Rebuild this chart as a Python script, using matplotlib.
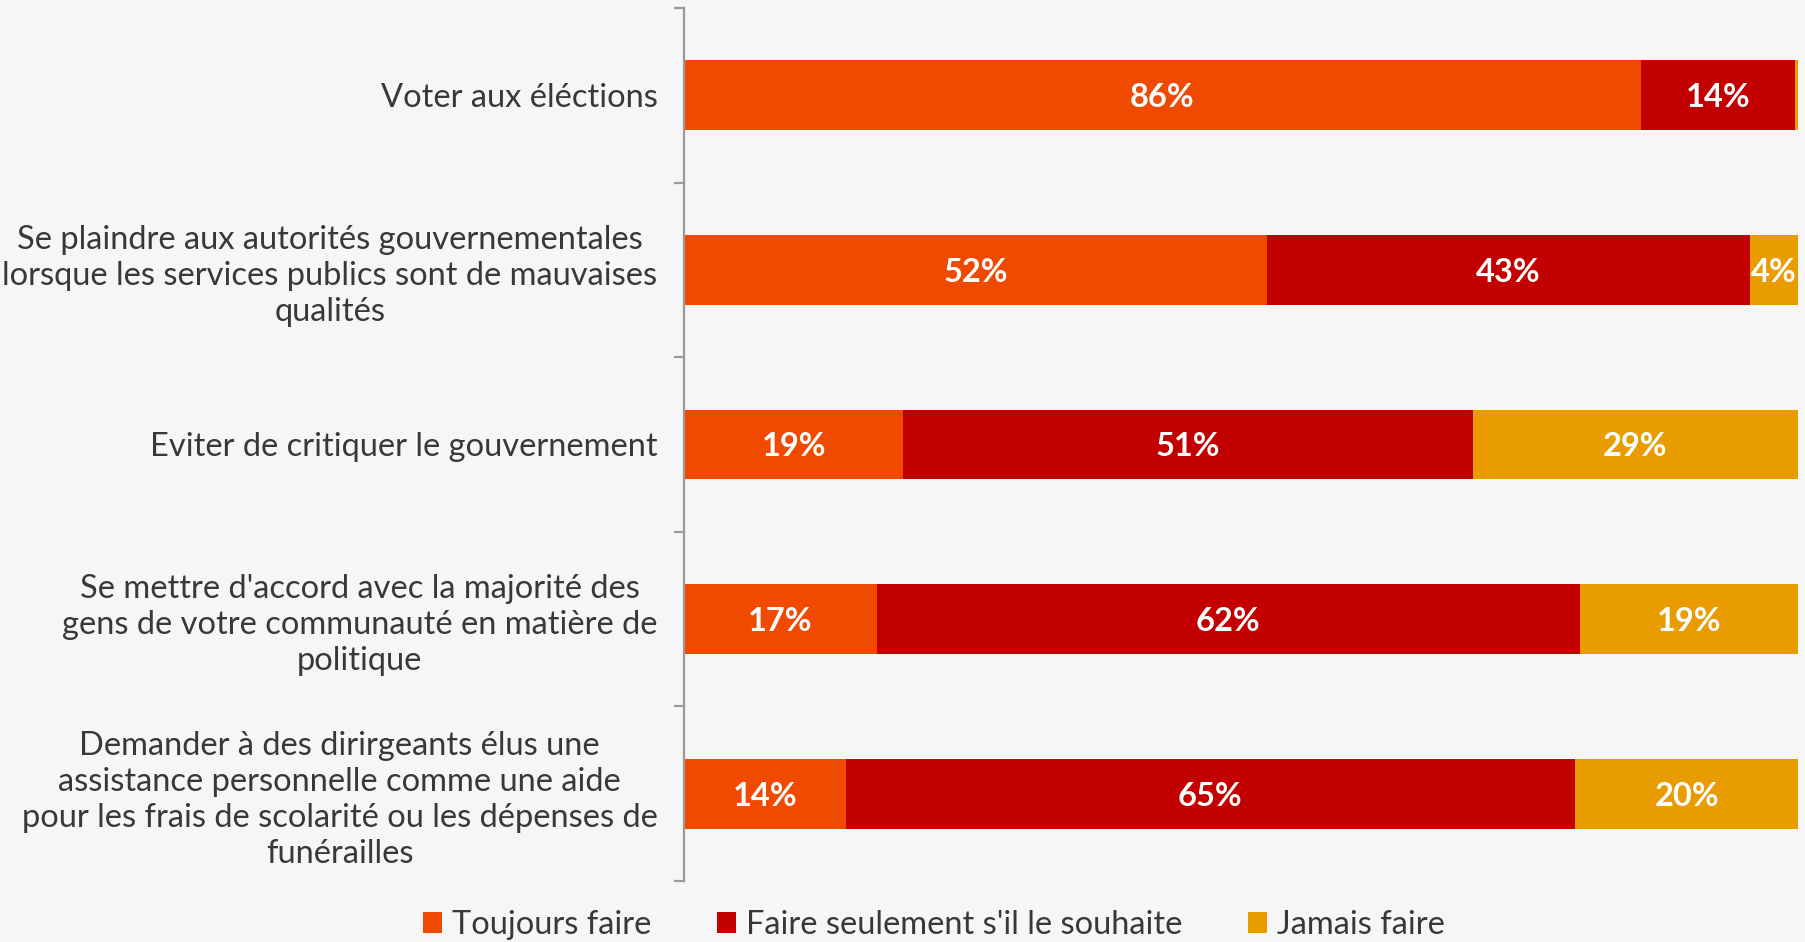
import matplotlib
matplotlib.use("Agg")
import matplotlib.pyplot as plt
from matplotlib.patches import Patch
import numpy as np

categories = [
    "Voter aux éléctions",
    "Se plaindre aux autorités gouvernementales\nlorsque les services publics sont de mauvaises\nqualités",
    "Eviter de critiquer le gouvernement",
    "Se mettre d'accord avec la majorité des\ngens de votre communauté en matière de\npolitique",
    "Demander à des dirirgeants élus une\nassistance personnelle comme une aide\npour les frais de scolarité ou les dépenses de\nfunérailles",
]
series_names = ["Toujours faire", "Faire seulement s'il le souhaite", "Jamais faire"]
toujours = [85.9, 52.3, 19.7, 17.3, 14.5]
seulement = [13.8, 43.4, 51.1, 63.1, 65.5]
jamais = [0.3, 4.3, 29.2, 19.6, 20.0]
lab_toujours = ["86%", "52%", "19%", "17%", "14%"]
lab_seulement = ["14%", "43%", "51%", "62%", "65%"]
lab_jamais = ["", "4%", "29%", "19%", "20%"]

colors = ["#EF4A00", "#C20000", "#E89C00"]
bg = "#F6F6F6"
font = "Lato"

fig = plt.figure(figsize=(18.06, 9.42), dpi=100, facecolor=bg)
ax = fig.add_axes([684/1806, 1-881/942, (1798-684)/1806, (881-8)/942])
ax.set_facecolor(bg)

y = np.arange(len(categories))
left = np.zeros(len(categories))
for vals, labs, col in zip([toujours, seulement, jamais],
                           [lab_toujours, lab_seulement, lab_jamais], colors):
    bars = ax.barh(y, vals, left=left, height=0.4, color=col, edgecolor="none")
    for b, v, l, lab in zip(bars, vals, left, labs):
        if lab:
            ax.text(l + v/2, b.get_y() + b.get_height()/2, lab, ha="center",
                    va="center_baseline", color="white", fontsize=23.5,
                    fontweight="bold", family=font)
    left = left + np.array(vals)

ax.set_xlim(0, 100)
ax.set_ylim(len(categories) - 0.5, -0.5)
for s in ["top", "right", "bottom"]:
    ax.spines[s].set_visible(False)
ax.spines["left"].set_color("#9A9A9A")
ax.spines["left"].set_linewidth(1.6)
ax.set_xticks([])
ax.set_yticks(np.arange(-0.5, len(categories), 1.0))
ax.set_yticklabels([])
ax.tick_params(axis="y", which="major", length=7, width=1.6, color="#9A9A9A", direction="out")
ax.set_yticks(y, minor=True)
ax.set_yticklabels(categories, minor=True)
ax.tick_params(axis="y", which="minor", length=0, pad=19, labelsize=23.5, labelcolor="#383838")
for t in ax.get_yticklabels(minor=True):
    t.set_multialignment("center")
    t.set_family(font)
    t.set_linespacing(1.25)

handles = [Patch(facecolor=c, edgecolor="none") for c in colors]
fig.legend(handles, series_names, loc="center", bbox_to_anchor=(934/1806, 1-925/942),
           ncol=3, frameon=False, handlelength=0.6, handleheight=0.6, handletextpad=0.3,
           columnspacing=2.0, prop={"family": font, "size": 23.5}, labelcolor="#383838")

fig.savefig("out.png", dpi=100, facecolor=bg)
